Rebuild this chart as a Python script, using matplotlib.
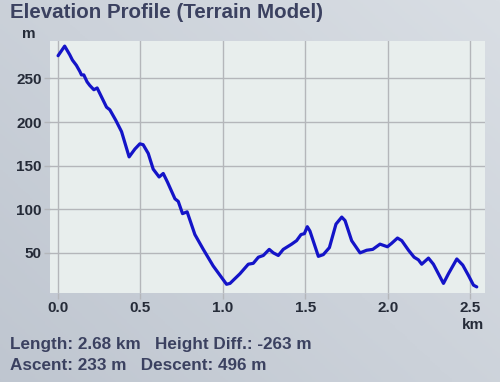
import numpy as np
import matplotlib
matplotlib.use("Agg")
import matplotlib.pyplot as plt

# ---------------- Data ----------------
dist_km = [0.000, 0.040, 0.071, 0.087, 0.111, 0.132, 0.142, 0.156, 0.176, 0.192,
           0.217, 0.237, 0.263, 0.294, 0.314, 0.350, 0.385, 0.431, 0.466, 0.496,
           0.516, 0.547, 0.577, 0.613, 0.638, 0.664, 0.709, 0.729, 0.755, 0.783,
           0.830, 0.881, 0.941, 1.022, 1.043, 1.103, 1.154, 1.184, 1.215, 1.245,
           1.281, 1.306, 1.336, 1.366, 1.417, 1.447, 1.474, 1.494, 1.512, 1.528,
           1.579, 1.609, 1.646, 1.686, 1.721, 1.741, 1.781, 1.832, 1.872, 1.909,
           1.953, 1.998, 2.024, 2.059, 2.085, 2.126, 2.160, 2.186, 2.206, 2.247,
           2.277, 2.338, 2.368, 2.419, 2.455, 2.490, 2.520, 2.540]
elev_m = [276, 287, 277, 271, 265, 258, 254, 254, 246, 242,
          237, 239, 229, 217, 214, 202, 189, 160, 169, 175,
          174, 164, 146, 137, 141, 131, 112, 109, 95, 97,
          71, 54, 35, 14, 15, 26, 37, 38, 45, 47,
          54, 50, 47, 54, 60, 64, 71, 72, 80, 75,
          46, 48, 56, 83, 91, 87, 64, 50, 53, 54,
          60, 57, 61, 67, 64, 53, 45, 42, 37, 44,
          37, 15, 26, 43, 36, 24, 13, 11]

x_ticks = [0.0, 0.5, 1.0, 1.5, 2.0, 2.5]
y_ticks = [50, 100, 150, 200, 250]

title = "Elevation Profile (Terrain Model)"
stats_line1 = "Length: 2.68 km   Height Diff.: -263 m"
stats_line2 = "Ascent: 233 m   Descent: 496 m"

# ---------------- Styling ----------------
plt.rcParams["font.family"] = ["Liberation Sans", "DejaVu Sans"]
LINE_COLOR = "#1414c8"
TEXT_COLOR = "#3b4160"
TICK_COLOR = "#252b38"
GRID_COLOR = "#b4b6ba"

fig = plt.figure(figsize=(5.0, 3.82), dpi=100)

# soft bluish-gray backdrop
bg = fig.add_axes([0, 0, 1, 1], zorder=-10)
gy, gx = np.mgrid[0:1:200j, 0:1:200j]
shade = 0.55 * gx + 0.45 * (1 - gy)
bg.imshow(shade, cmap=matplotlib.colors.LinearSegmentedColormap.from_list(
    "bgc", ["#bfc6d0", "#d9dee4"]), extent=[0, 1, 0, 1], aspect="auto",
    origin="upper")
bg.axis("off")

ax = fig.add_axes([0.10, 0.233, 0.87, 0.66])
ax.set_facecolor("#e8eeed")
ax.plot(dist_km, elev_m, color=LINE_COLOR, lw=2.3, solid_joinstyle="round",
        solid_capstyle="round", zorder=3)

ax.set_xlim(-0.049, 2.59)
ax.set_ylim(4, 293)
ax.set_xticks(x_ticks)
ax.set_xticklabels([f"{t:.1f}" for t in x_ticks])
ax.set_yticks(y_ticks)
ax.grid(True, color=GRID_COLOR, lw=1.0)
ax.set_axisbelow(True)
for s in ax.spines.values():
    s.set_visible(False)
ax.tick_params(axis="both", length=4, color=GRID_COLOR, width=1.0,
               labelsize=11, labelcolor=TICK_COLOR, pad=2)
for lab in ax.get_xticklabels() + ax.get_yticklabels():
    lab.set_fontweight("bold")

fig.text(0.02, 0.968, title, fontsize=14.75, fontweight="bold",
         color=TEXT_COLOR, ha="left", va="center")
fig.text(0.058, 0.91, "m", fontsize=11, fontweight="bold",
         color=TICK_COLOR, ha="center", va="center")
fig.text(0.946, 0.150, "km", fontsize=11, fontweight="bold",
         color=TICK_COLOR, ha="center", va="center")
fig.text(0.02, 0.097, stats_line1, fontsize=12.3, fontweight="bold",
         color=TEXT_COLOR, ha="left", va="center")
fig.text(0.02, 0.043, stats_line2, fontsize=12.3, fontweight="bold",
         color=TEXT_COLOR, ha="left", va="center")

fig.savefig("out.png", dpi=100)
